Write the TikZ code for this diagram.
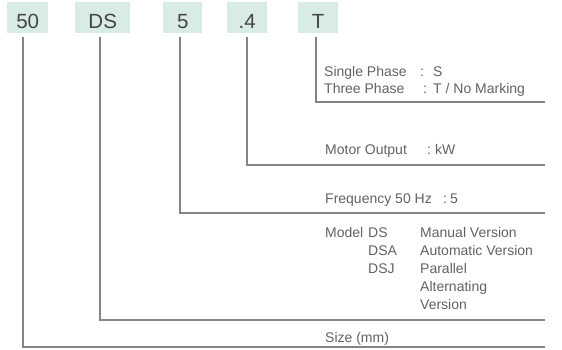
\documentclass[tikz,border=0pt]{standalone}
\usepackage{fontspec}
\setmainfont{Liberation Sans}
\definecolor{boxfill}{HTML}{D8ECE5}
\definecolor{txt}{HTML}{626262}
\definecolor{lbl}{HTML}{454545}
\definecolor{ln}{HTML}{858585}
\begin{document}
\begin{tikzpicture}[x=1pt,y=-1pt,
  codebox/.style={fill=boxfill, minimum height=31pt, inner sep=0pt, text height=21pt, text depth=0pt,
    font=\fontsize{20.5}{24}\selectfont, text=lbl, anchor=north west},
  desc/.style={font=\fontsize{14}{17}\selectfont, text=txt, anchor=base west, inner sep=0pt},
  conn/.style={draw=ln, line width=1.1pt}]
\useasboundingbox (0,0) rectangle (562,350);
% code boxes
\node[codebox, minimum width=41pt] (b50) at (7,2) {50};
\node[codebox, minimum width=55pt] (bDS) at (75,2) {DS};
\node[codebox, minimum width=39pt] (b5) at (163,2) {5};
\node[codebox, minimum width=40pt] (b4) at (227,2) {.4};
\node[codebox, minimum width=40pt] (bT) at (298,2) {T};
% connector start/end points
\coordinate (sT) at (316,37);  \coordinate (eT) at (545,102);
\coordinate (s4) at (247,37);  \coordinate (e4) at (545,165);
\coordinate (s5) at (180,37);  \coordinate (e5) at (545,213);
\coordinate (sDS) at (100,37); \coordinate (eDS) at (545,320);
\coordinate (s50) at (23,37);  \coordinate (e50) at (545,347);
\draw[conn] (sT) |- (eT);
\draw[conn] (s4) |- (e4);
\draw[conn] (s5) |- (e5);
\draw[conn] (sDS) |- (eDS);
\draw[conn] (s50) |- (e50);
% descriptions
\node[desc] (t1) at (324,77) {Single Phase};
\node[desc] (t1c) at (420,77) {:};
\node[desc] (t1v) at (433,77) {S};
\node[desc] (t2) at (324,94) {Three Phase};
\node[desc] (t2c) at (423,94) {:};
\node[desc] (t2v) at (433,94) {T / No Marking};
\node[desc] (m1) at (325,154) {Motor Output};
\node[desc] (m1c) at (427,154) {:};
\node[desc] (m1v) at (435,154) {kW};
\node[desc] (f1) at (325,203) {Frequency 50 Hz};
\node[desc] (f1c) at (443,203) {:};
\node[desc] (f1v) at (450,203) {5};
\node[desc] (md) at (325,237) {Model};
\node[desc] (md1) at (368,237) {DS};
\node[desc] (md1v) at (420,237) {Manual Version};
\node[desc] (md2) at (368,255) {DSA};
\node[desc] (md2v) at (420,255) {Automatic Version};
\node[desc] (md3) at (368,273) {DSJ};
\node[desc] (md3v) at (420,273) {Parallel};
\node[desc] (md3w) at (420,291) {Alternating};
\node[desc] (md3x) at (420,309) {Version};
\node[desc] (sz) at (325,342) {Size (mm)};
\end{tikzpicture}
\end{document}
